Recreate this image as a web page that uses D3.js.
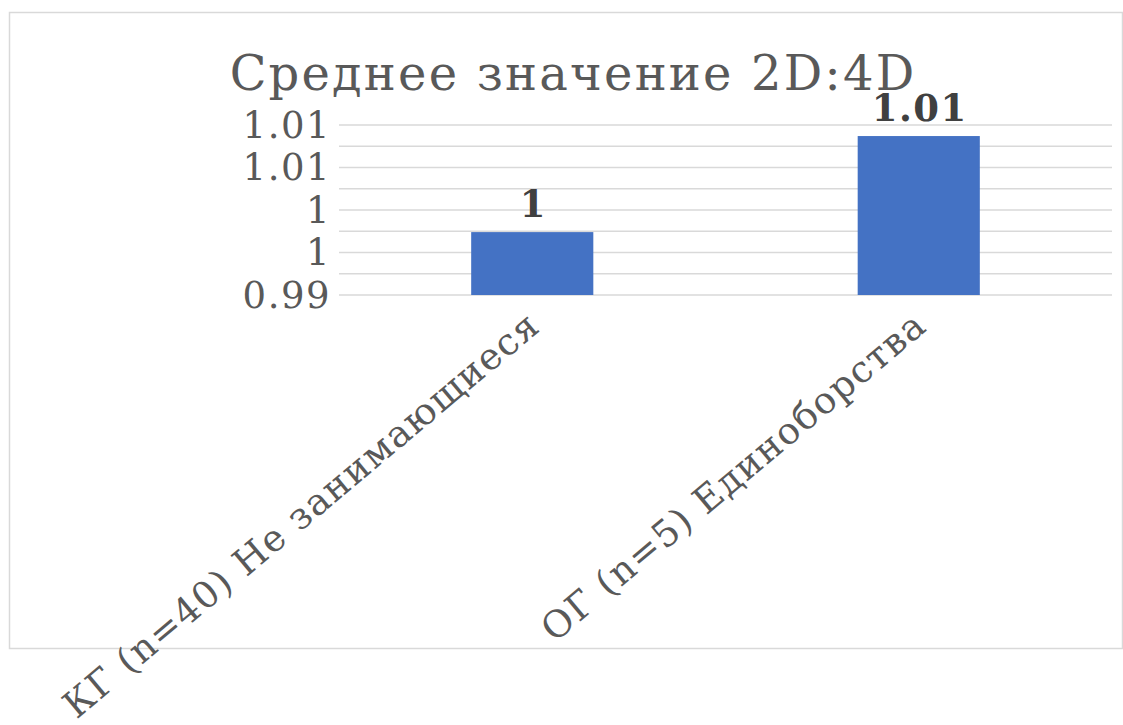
<!DOCTYPE html>
<html><head><meta charset="utf-8">
<script src="https://cdn.jsdelivr.net/npm/d3@7"></script>
<style>body{margin:0;background:#fff}svg{display:block}</style>
</head><body>
<script>
const title = "Среднее значение 2D:4D";
const categories = ["КГ (n=40) Не занимающиеся", "ОГ (n=5) Единоборства"];
const values = [0.9974, 1.0087];
const valueLabels = ["1", "1.01"];
const yTicks = [0.99, 0.995, 1.0, 1.005, 1.01];
const yTickLabels = ["0.99", "1", "1", "1.01", "1.01"];
const gridTicks = [0.99, 0.9925, 0.995, 0.9975, 1.0, 1.0025, 1.005, 1.0075, 1.01];

const W = 1123, H = 725;
const svg = d3.select("body").append("svg").attr("width", W).attr("height", H);
const font = "'DejaVu Serif', serif";

svg.append("rect").attr("x", 9.5).attr("y", 12.5).attr("width", 1113).attr("height", 636)
  .attr("fill", "#fff").attr("stroke", "#d9d9d9").attr("stroke-width", 1.5);

const x = d3.scaleBand().domain(categories).range([339, 1112]).paddingInner(0.684).paddingOuter(0.342);
const y = d3.scaleLinear().domain([0.99, 1.01]).range([295, 125]);

svg.append("text").attr("x", 573).attr("y", 90).attr("text-anchor", "middle")
  .attr("font-family", font).attr("font-size", 48).attr("letter-spacing", 2.2)
  .attr("fill", "#595959").text(title);

svg.append("g").selectAll("line").data(gridTicks).join("line")
  .attr("x1", 339).attr("x2", 1112).attr("y1", d => y(d)).attr("y2", d => y(d))
  .attr("stroke", "#d9d9d9").attr("stroke-width", 1.5);

svg.append("g").selectAll("text").data(yTicks).join("text")
  .attr("x", 331).attr("y", d => y(d)).attr("dy", "0.35em").attr("text-anchor", "end")
  .attr("font-family", font).attr("font-size", 37).attr("letter-spacing", 1.5)
  .attr("fill", "#595959").text((d, i) => yTickLabels[i]);

svg.append("g").selectAll("rect").data(values).join("rect")
  .attr("x", (d, i) => x(categories[i])).attr("width", x.bandwidth())
  .attr("y", d => y(d)).attr("height", d => y(0.99) - y(d)).attr("fill", "#4472c4");

svg.append("g").selectAll("text").data(values).join("text")
  .attr("x", (d, i) => x(categories[i]) + x.bandwidth() / 2 + 1).attr("y", d => y(d) - 15)
  .attr("text-anchor", "middle").attr("font-family", font).attr("font-weight", "bold")
  .attr("font-size", 37).attr("letter-spacing", 1.5).attr("fill", "#404040").text((d, i) => valueLabels[i]);

svg.append("g").selectAll("text").data(categories).join("text")
  .attr("transform", d => `translate(${x(d) + x.bandwidth() / 2 + 10},${329}) rotate(-40)`)
  .attr("text-anchor", "end")
  .attr("font-family", font).attr("font-size", 37).attr("letter-spacing", 1.4)
  .attr("fill", "#595959").text(d => d);
</script>
</body></html>
